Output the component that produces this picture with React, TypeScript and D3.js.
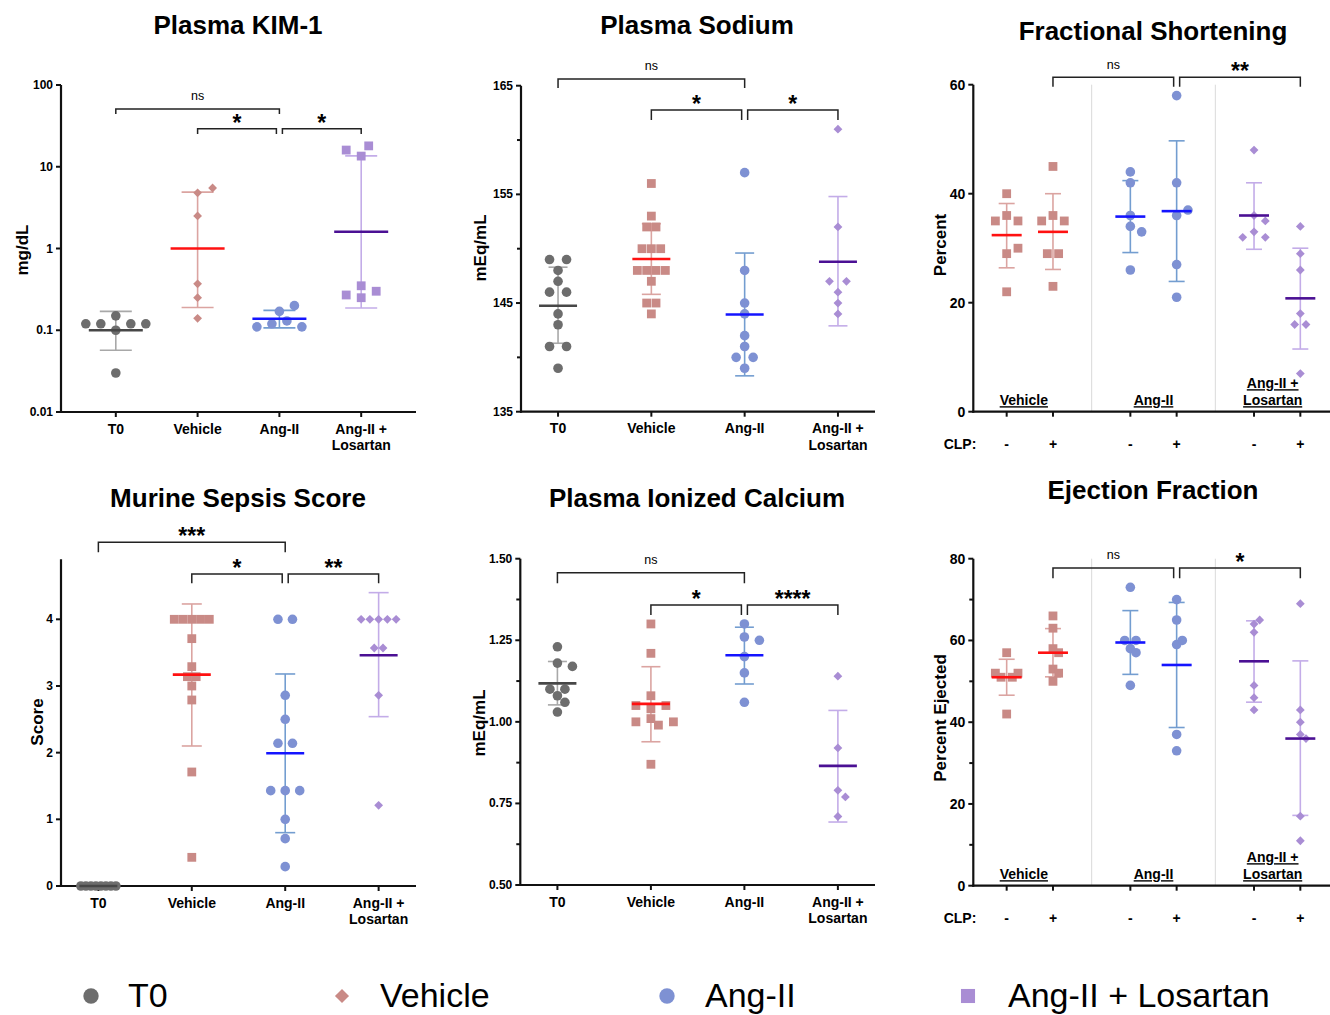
import React from "react";
import * as d3 from "d3";

const FONT = "'Liberation Sans', Arial, Helvetica, sans-serif";
const W = 1330;
const H = 1015;

// ---------- data ----------
const groupNames = ["T0", "Vehicle", "Ang-II", "Ang-II + Losartan"];
const groupTickLines = [["T0"], ["Vehicle"], ["Ang-II"], ["Ang-II +", "Losartan"]];
const cardioGroupLines = [["Vehicle"], ["Ang-II"], ["Ang-II +", "Losartan"]];
const clpSigns = ["-", "+", "-", "+", "-", "+"];

// Plasma KIM-1 (mg/dL)
const kimPoints = [
  [0.15, 0.1, 0.03, 0.12, 0.12, 0.12, 0.12],
  [4.8, 5.5, 2.5, 0.37, 0.25, 0.14],
  [0.17, 0.2, 0.13, 0.12, 0.11, 0.11],
  [13.5, 18, 16, 0.35, 0.3, 0.25, 0.27],
];
const kimMean = [0.1, 1.0, 0.138, 1.6];
const kimLow = [0.057, 0.19, 0.107, 0.187];
const kimHigh = [0.17, 4.9, 0.175, 13.6];
const kimSig = [
  { from: 0, to: 2, label: "ns", level: 0 },
  { from: 1, to: 2, label: "*", level: 1 },
  { from: 2, to: 3, label: "*", level: 1 },
];

// Plasma Sodium (mEq/mL)
const sodiumPoints = [
  [149, 149, 148, 147, 146, 146, 144, 143, 141, 141, 139],
  [156, 153, 152, 152, 150, 150, 150, 148, 148, 148, 148, 147, 145, 145, 144],
  [157, 148, 145, 144, 142, 141, 140, 140, 139],
  [161, 152, 147, 147, 146, 145, 144],
];
const sodiumMean = [144.75, 149.05, 143.95, 148.8];
const sodiumLow = [141.3, 145.8, 138.3, 142.9];
const sodiumHigh = [148.3, 152.3, 149.6, 154.8];
const sodiumSig = [
  { from: 0, to: 2, label: "ns", level: 0 },
  { from: 1, to: 2, label: "*", level: 1 },
  { from: 2, to: 3, label: "*", level: 1 },
];

// Fractional Shortening (%), columns: Vehicle -/+, Ang-II -/+, Ang-II + Losartan -/+
const fsPoints = [
  [40, 36, 35, 35, 29, 30, 22],
  [45, 36, 35, 35, 29, 29, 23],
  [44, 42, 36, 34, 33, 26],
  [58, 42, 36, 37, 27, 21],
  [48, 36, 35, 33, 32, 32],
  [34, 29, 26, 18, 16, 16, 7],
];
const fsMean = [32.4, 33.0, 35.8, 36.8, 36.0, 20.8];
const fsLow = [26.4, 26.1, 29.2, 23.9, 29.8, 11.5];
const fsHigh = [38.2, 40.0, 42.4, 49.7, 42.0, 30.0];
const fsSig = [
  { from: 1, to: 3, label: "ns", level: 0 },
  { from: 3, to: 5, label: "**", level: 0 },
];

// Murine Sepsis Score
const sepsisPoints = [
  [0, 0, 0, 0, 0, 0, 0, 0],
  [4, 4, 4, 4, 4, 3.71, 3.29, 3.14, 3.14, 3.0, 2.79, 1.71, 0.43],
  [4, 4, 2.86, 2.5, 2.14, 2.14, 1.43, 1.43, 1.43, 1.0, 0.71, 0.29],
  [4, 4, 4, 4, 4, 3.57, 3.57, 2.86, 1.21],
];
const sepsisMean = [0, 3.17, 1.99, 3.46];
const sepsisLow = [0, 2.1, 0.8, 2.54];
const sepsisHigh = [0, 4.23, 3.18, 4.4];
const sepsisSig = [
  { from: 0, to: 2, label: "***", level: 0 },
  { from: 1, to: 2, label: "*", level: 1 },
  { from: 2, to: 3, label: "**", level: 1 },
];

// Plasma Ionized Calcium (mEq/mL)
const calciumPoints = [
  [1.23, 1.18, 1.17, 1.1, 1.1, 1.08, 1.06, 1.03],
  [1.3, 1.21, 1.08, 1.05, 1.05, 1.04, 1.01, 1.0, 1.0, 0.99, 0.87],
  [1.3, 1.26, 1.25, 1.2, 1.15, 1.06],
  [1.14, 0.92, 0.79, 0.77, 0.71],
];
const calciumMean = [1.118, 1.055, 1.204, 0.865];
const calciumLow = [1.052, 0.939, 1.116, 0.693];
const calciumHigh = [1.185, 1.169, 1.29, 1.035];
const calciumSig = [
  { from: 0, to: 2, label: "ns", level: 0 },
  { from: 1, to: 2, label: "*", level: 1 },
  { from: 2, to: 3, label: "****", level: 1 },
];

// Ejection Fraction (%)
const efPoints = [
  [57, 51, 51, 52, 52, 42],
  [66, 63, 58, 57, 53, 52, 50],
  [73, 60, 60, 58, 57, 49],
  [70, 65, 59, 60, 37, 33],
  [64, 65, 62, 49, 46, 43],
  [69, 43, 40, 37, 36, 17, 11],
];
const efMean = [51.0, 57.0, 59.5, 54.0, 54.9, 36.0];
const efLow = [46.6, 51.1, 51.7, 38.7, 44.9, 17.2];
const efHigh = [55.4, 62.9, 67.3, 69.3, 64.8, 55.0];
const efSig = [
  { from: 1, to: 3, label: "ns", level: 0 },
  { from: 3, to: 5, label: "*", level: 0 },
];

// ---------- styles ----------
const pal = {
  t0: { pt: "#6d6d6d", mean: "#474747", err: "#a8a8a8" },
  veh: { pt: "#c98a86", mean: "#ff1111", err: "#dba4a1" },
  ang: { pt: "#7e91d3", mean: "#1414ff", err: "#739dd0" },
  los: { pt: "#a98dd4", mean: "#4b1094", err: "#c3ace8" },
};
const groupPal = [pal.t0, pal.veh, pal.ang, pal.los];
const cardioPal = [pal.veh, pal.veh, pal.ang, pal.ang, pal.los, pal.los];
const cardioLabelShift = [-6, 0, -4.5];

// place equal values side by side, nudging points that would overlap
function swarm(vals, ys, spIn, maxW, minIn) {
  const counts = d3.rollup(vals, (v) => v.length, (d) => d);
  const maxRow = d3.max(Array.from(counts.values())) || 1;
  const sp = maxRow > 1 ? Math.min(spIn, maxW / (maxRow - 1)) : spIn;
  const minD = Math.min(minIn, sp) - 0.02;
  const rows = d3.groups(vals.map((v, i) => ({ v, i })), (d) => d.v).map((g) => g[1]);
  rows.sort((a, b) => a.length - b.length);
  const placed = [];
  const off = vals.map(() => 0);
  const h = sp / 2;
  for (const row of rows) {
    const yy = ys(row[0].v);
    const cands = row.length % 2 === 0 ? [] : [0];
    for (let k = 1; k < 60; k++) cands.push(k * h, -k * h);
    let idx = 0;
    for (const item of row) {
      while (idx < cands.length) {
        const c = cands[idx++];
        if (placed.every(([px, py]) => Math.hypot(px - c, py - yy) >= minD)) {
          off[item.i] = c;
          placed.push([c, yy]);
          break;
        }
      }
    }
  }
  return off;
}

function Marker({ shape, x, y, fill, s = 1 }) {
  if (shape === "circle") return <circle cx={x} cy={y} r={4.8 * s} fill={fill} />;
  if (shape === "square") {
    const a = 4.4 * s;
    return <rect x={x - a} y={y - a} width={2 * a} height={2 * a} fill={fill} />;
  }
  const h = 4.4 * s;
  return <path d={`M${x},${y - h}L${x + h},${y}L${x},${y + h}L${x - h},${y}Z`} fill={fill} />;
}

function fourCols(points, mean, low, high, shapes) {
  return points.map((values, i) => ({
    values, mean: mean[i], lo: low[i], hi: high[i], shape: shapes[i], pal: groupPal[i],
  }));
}
function sixCols(points, mean, low, high) {
  const shapes = ["square", "square", "circle", "circle", "diamond", "diamond"];
  return points.map((values, i) => ({
    values, mean: mean[i], lo: low[i], hi: high[i], shape: shapes[i], pal: cardioPal[i],
  }));
}

function fourX(x0, x1, pad) {
  const sc = d3.scalePoint().domain(d3.range(4)).range([x0, x1]).padding(pad);
  return d3.range(4).map((i) => sc(i));
}
function sixX(x0) {
  const sc = d3.scalePoint().domain(d3.range(3)).range([x0, 1333.7]).padding(0.457);
  const g = d3.range(3).map((i) => sc(i));
  return {
    cols: d3.range(6).map((i) => g[Math.floor(i / 2)] + (i % 2 ? 23.15 : -23.15)),
    seps: [(g[0] + g[1]) / 2, (g[1] + g[2]) / 2],
    groups: g,
  };
}

const shapesA = ["circle", "diamond", "circle", "square"];
const shapesB = ["circle", "square", "circle", "diamond"];

const fsX = sixX(973.3);
const efX = sixX(973.3);

const panels = [
  {
    title: "Plasma KIM-1", titleX: 238, titleY: 34,
    yLabel: "mg/dL", yLabelX: 22, yLabelY: 250,
    x0: 61, x1: 416, yTop: 85, yBot: 412,
    y: d3.scaleLog().domain([0.01, 100]).range([412, 85]),
    ticks: [0.01, 0.1, 1, 10, 100], minor: [], fmt: (d) => String(d), tickFont: 12,
    colX: fourX(61, 416, 0.67), seps: [],
    cols: fourCols(kimPoints, kimMean, kimLow, kimHigh, shapesA),
    meanHalf: 27, capHalf: 16, sp: 15, maxW: 60, minDist: 10.5,
    sig: kimSig, levels: [{ bar: 109, tick: 5 }, { bar: 128.7, tick: 5.3 }],
    kind: "groups",
  },
  {
    title: "Plasma Sodium", titleX: 697, titleY: 34,
    yLabel: "mEq/mL", yLabelX: 480, yLabelY: 248,
    x0: 521, x1: 875, yTop: 85.7, yBot: 411.7,
    y: d3.scaleLinear().domain([135, 165]).range([411.7, 85.7]),
    ticks: [135, 145, 155, 165], minor: [140, 150, 160], fmt: (d) => String(d), tickFont: 12,
    colX: fourX(521, 875, 0.397), seps: [],
    cols: fourCols(sodiumPoints, sodiumMean, sodiumLow, sodiumHigh, shapesB),
    meanHalf: 19, capHalf: 9.5, sp: 17, maxW: 28, minDist: 10,
    sig: sodiumSig, levels: [{ bar: 79, tick: 9 }, { bar: 110, tick: 10 }],
    kind: "groups",
  },
  {
    title: "Fractional Shortening", titleX: 1153, titleY: 40,
    yLabel: "Percent", yLabelX: 940, yLabelY: 245,
    x0: 973.3, x1: 1330, yTop: 84.7, yBot: 411.7,
    y: d3.scaleLinear().domain([0, 60]).range([411.7, 84.7]),
    ticks: [0, 20, 40, 60], minor: [], fmt: (d) => String(d), tickFont: 14,
    colX: fsX.cols, seps: fsX.seps, groupX: fsX.groups,
    cols: sixCols(fsPoints, fsMean, fsLow, fsHigh),
    meanHalf: 15, capHalf: 8, sp: 11.3, maxW: 30, minDist: 9,
    sig: fsSig, levels: [{ bar: 77.3, tick: 9.4 }],
    kind: "cardio",
  },
  {
    title: "Murine Sepsis Score", titleX: 238, titleY: 507,
    yLabel: "Score", yLabelX: 37, yLabelY: 722,
    x0: 61, x1: 416, yTop: 559.3, yBot: 886,
    y: d3.scaleLinear().domain([0, 4.9]).range([886, 559.3]),
    ticks: [0, 1, 2, 3, 4], minor: [], fmt: (d) => String(d), tickFont: 12,
    colX: fourX(61, 416, 0.4), seps: [],
    cols: fourCols(sepsisPoints, sepsisMean, sepsisLow, sepsisHigh, shapesB),
    meanHalf: 19, capHalf: 10, sp: 14.5, maxW: 35, minDist: 9.5,
    sig: sepsisSig, levels: [{ bar: 542.3, tick: 10 }, { bar: 574, tick: 9.3 }],
    kind: "groups",
  },
  {
    title: "Plasma Ionized Calcium", titleX: 697, titleY: 507,
    yLabel: "mEq/mL", yLabelX: 479, yLabelY: 723,
    x0: 520.3, x1: 875, yTop: 558.7, yBot: 885,
    y: d3.scaleLinear().domain([0.5, 1.5]).range([885, 558.7]),
    ticks: [0.5, 0.75, 1, 1.25, 1.5], minor: [0.625, 0.875, 1.125, 1.375],
    fmt: d3.format(".2f"), tickFont: 12,
    colX: fourX(520.3, 875, 0.397), seps: [],
    cols: fourCols(calciumPoints, calciumMean, calciumLow, calciumHigh, shapesB),
    meanHalf: 19, capHalf: 9.5, sp: 15, maxW: 30, minDist: 9.5,
    sig: calciumSig, levels: [{ bar: 572.7, tick: 10.6 }, { bar: 605, tick: 10 }],
    kind: "groups",
  },
  {
    title: "Ejection Fraction", titleX: 1153, titleY: 499,
    yLabel: "Percent Ejected", yLabelX: 940, yLabelY: 718,
    x0: 973.3, x1: 1330, yTop: 558.7, yBot: 885.7,
    y: d3.scaleLinear().domain([0, 80]).range([885.7, 558.7]),
    ticks: [0, 20, 40, 60, 80], minor: [10, 30, 50, 70], fmt: (d) => String(d), tickFont: 14,
    colX: efX.cols, seps: efX.seps, groupX: efX.groups,
    cols: sixCols(efPoints, efMean, efLow, efHigh),
    meanHalf: 15, capHalf: 8, sp: 11.3, maxW: 30, minDist: 6.6,
    sig: efSig, levels: [{ bar: 568, tick: 10.3 }],
    kind: "cardio",
  },
];

function Panel({ p }) {
  const y = p.y;
  const ink = "#111";
  return (
    <g>
      <text x={p.titleX} y={p.titleY} textAnchor="middle" fontSize={26} fontWeight="bold">
        {p.title}
      </text>
      <text
        transform={`translate(${p.yLabelX},${p.yLabelY}) rotate(-90)`}
        textAnchor="middle"
        dominantBaseline="central"
        fontSize={17}
        fontWeight="bold"
      >
        {p.yLabel}
      </text>

      {p.seps.map((sx, i) => (
        <line key={i} x1={sx} x2={sx} y1={p.yTop} y2={p.yBot} stroke="#dadada" strokeWidth={1} />
      ))}

      {/* axes */}
      <line x1={p.x0} x2={p.x0} y1={p.yTop} y2={p.yBot + 1} stroke={ink} strokeWidth={2.2} />
      <line x1={p.x0 - 1} x2={p.x1} y1={p.yBot} y2={p.yBot} stroke={ink} strokeWidth={2.2} />
      {p.ticks.map((t) => (
        <g key={t}>
          <line x1={p.x0 - 5} x2={p.x0} y1={y(t)} y2={y(t)} stroke={ink} strokeWidth={2} />
          <text
            x={p.x0 - 8}
            y={y(t)}
            textAnchor="end"
            dominantBaseline="central"
            fontSize={p.tickFont}
            fontWeight="bold"
          >
            {p.fmt(t)}
          </text>
        </g>
      ))}
      {p.minor.map((t) => (
        <line key={t} x1={p.x0 - 4} x2={p.x0} y1={y(t)} y2={y(t)} stroke={ink} strokeWidth={2} />
      ))}
      {p.colX.map((cx, i) => (
        <line key={i} x1={cx} x2={cx} y1={p.yBot} y2={p.yBot + 5} stroke={ink} strokeWidth={2} />
      ))}

      {/* data columns */}
      {p.cols.map((c, i) => {
        const cx = p.colX[i];
        const offs = swarm(c.values, (v) => y(v), p.sp, p.maxW, p.minDist);
        return (
          <g key={i}>
            <line x1={cx} x2={cx} y1={y(c.lo)} y2={y(c.hi)} stroke={c.pal.err} strokeWidth={1.6} />
            {[c.lo, c.hi].map((v, k) => (
              <line
                key={k}
                x1={cx - p.capHalf}
                x2={cx + p.capHalf}
                y1={y(v)}
                y2={y(v)}
                stroke={c.pal.err}
                strokeWidth={1.6}
              />
            ))}
            {c.values.map((v, j) => (
              <Marker key={j} shape={c.shape} x={cx + offs[j]} y={y(v)} fill={c.pal.pt} />
            ))}
            <line
              x1={cx - p.meanHalf}
              x2={cx + p.meanHalf}
              y1={y(c.mean)}
              y2={y(c.mean)}
              stroke={c.pal.mean}
              strokeWidth={2.6}
            />
          </g>
        );
      })}

      {/* significance brackets */}
      {p.sig.map((s, i) => {
        const lv = p.levels[s.level];
        const shareEnd = p.sig.some((o) => o !== s && o.level === s.level && o.from === s.to);
        const shareStart = p.sig.some((o) => o !== s && o.level === s.level && o.to === s.from);
        const xa = p.colX[s.from] + (shareStart ? 3 : 0);
        const xb = p.colX[s.to] - (shareEnd ? 3 : 0);
        const isNs = s.label === "ns";
        return (
          <g key={i}>
            <path
              d={`M${xa},${lv.bar + lv.tick}V${lv.bar}H${xb}V${lv.bar + lv.tick}`}
              fill="none"
              stroke="#222"
              strokeWidth={1.5}
            />
            <text
              x={(xa + xb) / 2}
              y={isNs ? lv.bar - 8.7 : lv.bar + 2}
              textAnchor="middle"
              fontSize={isNs ? 12.5 : 23}
              fontWeight={isNs ? "normal" : "bold"}
            >
              {s.label}
            </text>
          </g>
        );
      })}

      {/* category labels */}
      {p.kind === "groups" &&
        groupTickLines.map((lines, i) =>
          lines.map((ln, k) => (
            <text
              key={`${i}-${k}`}
              x={p.colX[i]}
              y={p.yBot + 21.5 + k * 16.5}
              textAnchor="middle"
              fontSize={14}
              fontWeight="bold"
            >
              {ln}
            </text>
          ))
        )}
      {p.kind === "cardio" && (
        <g>
          {cardioGroupLines.map((lines, i) =>
            lines.map((ln, k) => (
              <text
                key={`${i}-${k}`}
                x={p.groupX[i] + cardioLabelShift[i]}
                y={p.yBot - 6.5 - (lines.length - 1 - k) * 17}
                textAnchor="middle"
                fontSize={14}
                fontWeight="bold"
                style={{ textDecoration: "underline" }}
              >
                {ln}
              </text>
            ))
          )}
          <text x={p.x0 + 3} y={p.yBot + 37.5} textAnchor="end" fontSize={14} fontWeight="bold">
            CLP:
          </text>
          {clpSigns.map((sg, i) => (
            <text
              key={i}
              x={p.colX[i]}
              y={p.yBot + 37.5}
              textAnchor="middle"
              fontSize={14}
              fontWeight="bold"
            >
              {sg}
            </text>
          ))}
        </g>
      )}
    </g>
  );
}

const legendShapes = ["circle", "diamond", "circle", "square"];
const legendMarkerX = [91, 342, 667, 968];
const legendTextX = [128, 380, 705, 1008];

function Legend() {
  return (
    <g>
      {groupNames.map((name, i) => (
        <g key={name}>
          <Marker shape={legendShapes[i]} x={legendMarkerX[i]} y={996} fill={groupPal[i].pt} s={1.6} />
          <text x={legendTextX[i]} y={1007} fontSize={34}>
            {name}
          </text>
        </g>
      ))}
    </g>
  );
}

export default function App() {
  return (
    <div>
      <style>{"body{margin:0}"}</style>
      <svg width={W} height={H} style={{ display: "block", background: "#fff" }} fontFamily={FONT}>
        {panels.map((p, i) => (
          <Panel key={i} p={p} />
        ))}
        <Legend />
      </svg>
    </div>
  );
}
